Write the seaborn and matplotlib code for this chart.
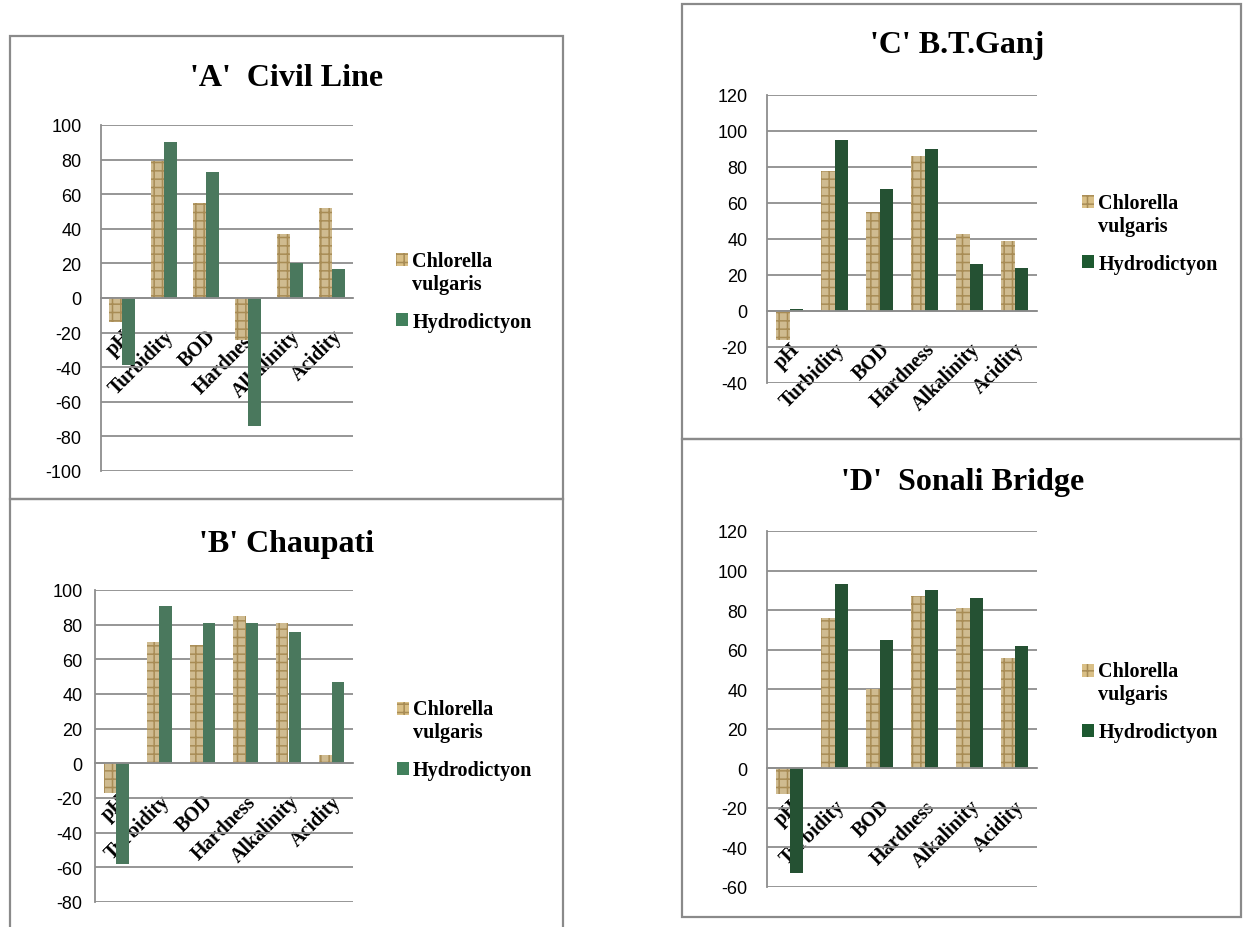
import matplotlib
matplotlib.use("Agg")
import matplotlib.pyplot as plt
import matplotlib.patches as mpatches
from matplotlib.legend_handler import HandlerPatch
import pandas as pd
import seaborn as sns

# Data
params = ["pH", "Turbidity", "BOD", "Hardness", "Alkalinity", "Acidity"]
species = ["Chlorella vulgaris", "Hydrodictyon"]

civil_chlorella = [-14, 79, 55, -24, 37, 52]
civil_hydro = [-39, 90, 73, -74, 20, 17]

chaupati_chlorella = [-17, 70, 68, 85, 81, 5]
chaupati_hydro = [-58, 91, 81, 81, 76, 47]

btganj_chlorella = [-16, 78, 55, 86, 43, 39]
btganj_hydro = [1, 95, 68, 90, 26, 24]

sonali_chlorella = [-13, 76, 40, 87, 81, 56]
sonali_hydro = [-53, 93, 65, 90, 86, 62]

W, H = 1243, 928
sns.set_theme(style="white")
plt.rcParams["hatch.linewidth"] = 1.1
plt.rcParams["axes.unicode_minus"] = False
plt.rcParams["text.color"] = "black"
plt.rcParams["xtick.color"] = "black"
plt.rcParams["ytick.color"] = "black"

fig = plt.figure(figsize=(W / 100, H / 100), dpi=100)

tan = "#D9BF86"
tan_hatch = "#A88C55"
light_green = "#42805C"
dark_green = "#1D5930"
grid_col = "#8E8E8E"


def make_df(chl, hyd):
    return pd.DataFrame({
        "param": params * 2,
        "value": chl + hyd,
        "species": [species[0]] * 6 + [species[1]] * 6,
    })


def top_patch(legend, orig_handle, xdescent, ydescent, width, height, fontsize):
    # put the marker next to the first line of a two-line label
    return mpatches.Rectangle((-xdescent, -ydescent + height), width, height)


def draw_panel(box, axbox, title, title_xy, chl, hyd, green, ylim, ypad):
    # panel frame
    x0, y0, x1, y1 = box
    fig.patches.append(mpatches.Rectangle(
        (x0 / W, 1 - y1 / H), (x1 - x0) / W, (y1 - y0) / H,
        transform=fig.transFigure, fill=False, edgecolor="#8A8A8A", linewidth=1.6))

    l, t, r, b = axbox
    ax = fig.add_axes([l / W, 1 - b / H, (r - l) / W, (b - t) / H])
    sns.barplot(data=make_df(chl, hyd), x="param", y="value", hue="species",
                palette=[tan, green], width=0.6, errorbar=None, legend=False,
                linewidth=0, ax=ax)
    for bar in ax.containers[0]:
        bar.set_hatch("++")
        bar.set_edgecolor(tan_hatch)
    for bar in ax.containers[1]:
        bar.set_edgecolor(green)

    ax.set_ylim(*ylim)
    ax.set_yticks(range(ylim[0], ylim[1] + 1, 20))
    ax.set_xlim(-0.5, 5.5)
    ax.yaxis.grid(True, color=grid_col, linewidth=1.3)
    ax.set_axisbelow(True)
    for s in ["top", "right"]:
        ax.spines[s].set_visible(False)
    ax.spines["left"].set_color(grid_col)
    ax.spines["left"].set_linewidth(1.3)
    ax.spines["bottom"].set_position(("data", 0))
    ax.spines["bottom"].set_color(grid_col)
    ax.spines["bottom"].set_linewidth(1.3)
    ax.set_xlabel("")
    ax.set_ylabel("")
    ax.tick_params(axis="y", length=0, pad=ypad, labelsize=13, labelcolor="black")
    for lab in ax.get_yticklabels():
        lab.set_fontfamily("Liberation Sans")
    ax.tick_params(axis="x", length=0, pad=20, labelcolor="black")
    ax.set_xticks(range(6))
    ax.set_xticklabels(params, rotation=45, ha="right", va="top",
                       rotation_mode="anchor", fontfamily="Liberation Serif",
                       fontweight="bold", fontsize=14.5)

    handles = [mpatches.Patch(facecolor=tan, edgecolor=tan_hatch, hatch="++", linewidth=0),
               mpatches.Patch(facecolor=green, linewidth=0)]
    ax.legend(handles, ["Chlorella\nvulgaris", "Hydrodictyon"], loc="center left",
              bbox_to_anchor=(1.10, 0.52), frameon=False, handlelength=0.6,
              handleheight=0.6, handletextpad=0.2, labelspacing=0.9,
              handler_map={handles[0]: HandlerPatch(patch_func=top_patch)},
              prop={"family": "Liberation Serif", "weight": "bold", "size": 14.5})

    fig.text(title_xy[0] / W, 1 - title_xy[1] / H, title, ha="center", va="center",
             fontfamily="Liberation Serif", fontweight="bold", fontsize=23, color="black")
    return ax


draw_panel((10, 37, 563, 500), (101, 126, 353, 472), "'A'  Civil Line", (287, 78),
           civil_chlorella, civil_hydro, light_green, (-100, 100), 14)
draw_panel((10, 500, 563, 935), (95, 591, 353, 903), "'B' Chaupati", (287, 545),
           chaupati_chlorella, chaupati_hydro, light_green, (-80, 100), 9)
draw_panel((682, 5, 1241, 440), (767, 96, 1037, 384), "'C' B.T.Ganj", (957, 45),
           btganj_chlorella, btganj_hydro, dark_green, (-40, 120), 14)
draw_panel((682, 440, 1241, 918), (767, 532, 1037, 888), "'D'  Sonali Bridge", (963, 483),
           sonali_chlorella, sonali_hydro, dark_green, (-60, 120), 14)

fig.savefig("out.png", dpi=100)
